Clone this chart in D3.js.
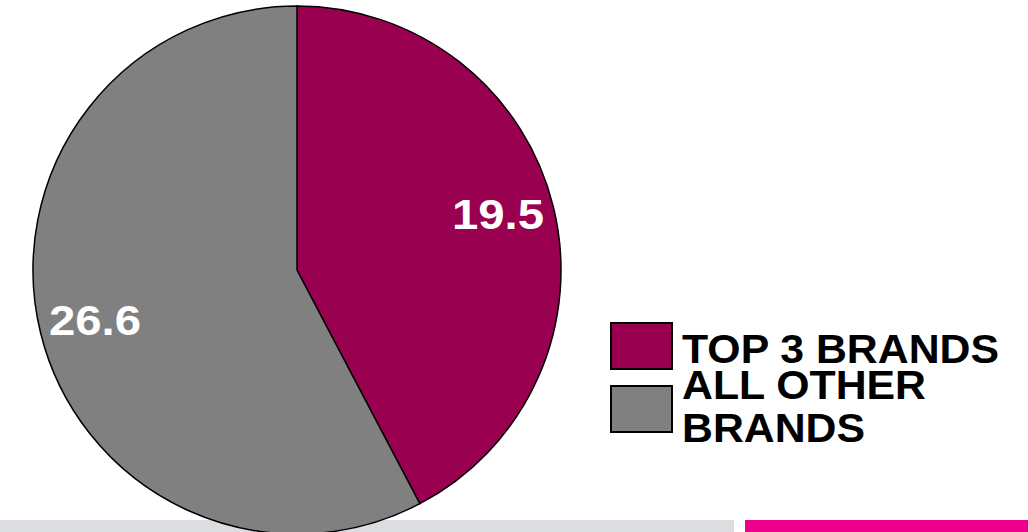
<!DOCTYPE html>
<html>
<head>
<meta charset="utf-8">
<script src="https://cdn.jsdelivr.net/npm/d3@7"></script>
<style>
	body { margin: 0; background: #fff; }
	svg { display: block; font-family: "Liberation Sans", Arial, sans-serif; font-weight: bold; }
</style>
</head>
<body>
<svg width="1028" height="532"></svg>
<script>
// chart data
var categories = ["TOP 3 BRANDS", "ALL OTHER BRANDS"];
var values = [19.5, 26.6];
var valueLabels = ["19.5", "26.6"];
var colors = ["#990050", "#808080"];

var svg = d3.select("svg"),
	width = +svg.attr("width"),
	height = +svg.attr("height");

// bottom strips
svg.append("rect").attr("x", 0).attr("y", 520).attr("width", 734).attr("height", 12).attr("fill", "#dcdde1");
svg.append("rect").attr("x", 745).attr("y", 520).attr("width", 283).attr("height", 12).attr("fill", "#ec008c");

var cx = 297, cy = 270, r = 264;

var pie = d3.pie().sort(null).value(function (d) { return d; });
var arc = d3.arc().innerRadius(0).outerRadius(r);
var arcs = pie(values);

var g = svg.append("g").attr("transform", "translate(" + cx + "," + cy + ")");

g.selectAll("path")
	.data(arcs)
	.enter().append("path")
	.attr("d", arc)
	.attr("fill", function (d, i) { return colors[i]; })
	.attr("stroke", "#000")
	.attr("stroke-width", 1.5);

// value labels (slightly wide face, so stretch a bit)
var labelPos = [[201, -41], [-202, 65]];
g.selectAll("text.val")
	.data(arcs)
	.enter().append("text")
	.attr("class", "val")
	.attr("transform", function (d, i) {
		return "translate(" + labelPos[i][0] + "," + labelPos[i][1] + ") scale(1.1,1)";
	})
	.attr("text-anchor", "middle")
	.attr("fill", "#fff")
	.attr("font-size", 43)
	.text(function (d, i) { return valueLabels[i]; });

// legend
var legend = svg.append("g");
var boxY = [323, 386];
legend.selectAll("rect")
	.data(categories)
	.enter().append("rect")
	.attr("x", 611)
	.attr("y", function (d, i) { return boxY[i]; })
	.attr("width", 61)
	.attr("height", 46)
	.attr("fill", function (d, i) { return colors[i]; })
	.attr("stroke", "#000")
	.attr("stroke-width", 2);

var legendLines = [["TOP 3 BRANDS", 363], ["ALL OTHER", 399], ["BRANDS", 442]];
legend.selectAll("text")
	.data(legendLines)
	.enter().append("text")
	.attr("transform", function (d) { return "translate(682," + d[1] + ") scale(1.07,1)"; })
	.attr("font-size", 40)
	.attr("fill", "#000")
	.text(function (d) { return d[0]; });
</script>
</body>
</html>
